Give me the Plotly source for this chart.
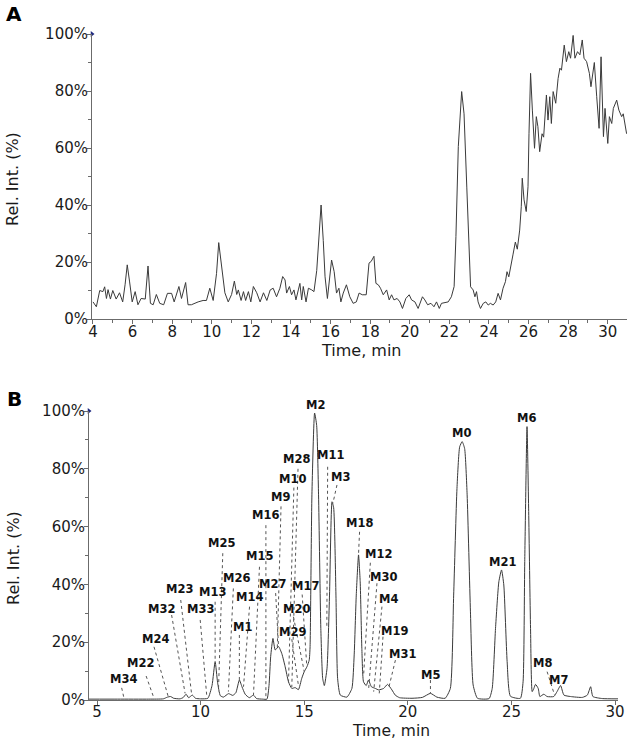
import plotly.graph_objects as go

# ---------------- Panel A: chromatogram (time in min, relative intensity %) ----------------
a_time = [4.0, 4.17, 4.34, 4.5, 4.59, 4.68, 4.76, 4.88, 5.0, 5.17, 5.34, 5.5, 5.62, 5.73, 5.85, 5.98,
          6.13, 6.27, 6.43, 6.64, 6.78, 6.9, 7.04, 7.2, 7.37, 7.57, 7.76, 7.97, 8.1, 8.34, 8.47, 8.68,
          8.8, 8.97, 9.31, 9.56, 9.73, 9.9, 10.07, 10.24, 10.35, 10.5, 10.66, 10.83, 11.0, 11.14, 11.26,
          11.34, 11.48, 11.6, 11.71, 11.85, 11.97, 12.1, 12.27, 12.44, 12.61, 12.78, 12.95, 13.1, 13.27,
          13.44, 13.58, 13.7, 13.78, 13.92, 14.03, 14.15, 14.25, 14.37, 14.45, 14.54, 14.62, 14.76,
          14.88, 15.05, 15.16, 15.3, 15.41, 15.52, 15.63, 15.72, 15.84, 15.94, 16.05, 16.18, 16.3,
          16.42, 16.52, 16.64, 16.8, 16.97, 17.14, 17.3, 17.44, 17.6, 17.8, 17.94, 18.05, 18.19, 18.29,
          18.41, 18.52, 18.66, 18.83, 18.96, 19.08, 19.2, 19.36, 19.5, 19.63, 19.8, 19.97, 20.09, 20.26,
          20.42, 20.64, 20.76, 20.9, 21.07, 21.22, 21.35, 21.49, 21.6, 21.77, 21.94, 22.1, 22.24, 22.33,
          22.45, 22.62, 22.74, 22.88, 22.99, 23.07, 23.2, 23.29, 23.37, 23.45, 23.57, 23.71, 23.84,
          23.96, 24.07, 24.21, 24.34, 24.46, 24.58, 24.71, 24.83, 24.91, 25.0, 25.1, 25.21, 25.33,
          25.43, 25.55, 25.63, 25.68, 25.77, 25.88, 25.97, 26.02, 26.1, 26.19, 26.3, 26.39, 26.47,
          26.56, 26.68, 26.76, 26.9, 26.98, 27.07, 27.15, 27.24, 27.37, 27.49, 27.58, 27.66, 27.8,
          27.91, 28.03, 28.12, 28.25, 28.34, 28.47, 28.59, 28.71, 28.8, 28.93, 29.07, 29.15, 29.24,
          29.32, 29.44, 29.56, 29.66, 29.78, 29.86, 30.0, 30.08, 30.2, 30.28, 30.45, 30.56, 30.7,
          30.78, 30.95]
a_int = [6, 4.3, 10, 9.6, 11.3, 7.2, 10.3, 7, 10, 7, 9.2, 6, 12, 19, 13, 6,
         9.6, 5, 7.2, 7, 18.6, 5.5, 5, 8.6, 5.5, 5, 9, 9, 6, 11.4, 7.2, 12.8,
         5, 5, 6, 6.5, 6.5, 10.8, 6.5, 16, 26.8, 19, 9.2, 6, 8.6, 13.3, 8.6,
         10.2, 6.5, 9.6, 6.5, 9.6, 6, 11.4, 9.2, 6, 9.2, 6.5, 10.2, 10.8, 7.8,
         10.8, 14.9, 13.7, 9.1, 11.4, 8.5, 10.2, 6.7, 10.2, 12.5, 6.7, 11.4, 6,
         10.8, 10.2, 9.6, 17, 28.7, 40, 27.5, 14.8, 7.2, 13.7, 20.7, 16.6, 9.1,
         10.8, 6, 9.1, 12, 7.8, 5.5, 6, 9.1, 8.5, 8.5, 19.6, 20.2, 22, 12.5,
         12, 10.8, 8.5, 10.2, 6.7, 8.5, 6.7, 7.2, 6, 3.7, 7.2, 8.5, 6.7, 6,
         3.7, 7.8, 6.7, 5, 5.5, 4.3, 6, 3.7, 5.5, 5.8, 6, 7.8, 11.4, 28.9,
         60.5, 79.8, 72, 46, 23, 11.3, 10.2, 7.8, 9.6, 6, 3.7, 5.5, 6,
         4.9, 5.5, 4.9, 6, 9, 6.7, 10.8, 13.1, 16.6, 14.8, 19, 22.5, 27,
         24.5, 31.2, 39.4, 49.4, 41.8, 37.7, 46.4, 65, 86.2, 73.3, 59.9, 71, 67.5,
         58.7, 65, 63.8, 78.6, 69.8, 78, 68.6, 79.8, 75.7, 84.4, 88, 87.3, 96.1,
         90.3, 93.8, 91.5, 99.5, 91.5, 93.8, 92.7, 97.9, 91.5, 90.3, 86.2, 81.5, 87.3,
         90, 78, 66.9, 92, 64, 73.9, 61.6, 71, 68.6, 73.9, 76.8, 73.3, 71,
         72, 65]

# ---------------- Panel B: chromatogram ----------------
b_time = [4.6, 6.0, 7.5, 8.2, 8.4, 8.55, 8.7, 9.0, 9.15, 9.3, 9.42, 9.6, 9.75, 10.0, 10.35, 10.55,
          10.7, 10.82, 10.95, 11.1, 11.35, 11.55, 11.7, 11.87, 12.0, 12.15, 12.35, 12.55, 12.7, 13.0,
          13.2, 13.3, 13.38, 13.49, 13.6, 13.76, 13.92, 14.08, 14.24, 14.4, 14.56, 14.72, 14.88, 15.0,
          15.13, 15.24, 15.28, 15.37, 15.5, 15.6, 15.69, 15.8, 15.89, 15.97, 16.1, 16.22, 16.34, 16.42,
          16.53, 16.61, 16.74, 17.06, 17.3, 17.41, 17.51, 17.62, 17.7, 17.78, 17.86, 17.99, 18.1,
          18.24, 18.43, 18.59, 18.83, 19.02, 19.23, 19.39, 19.6, 20.2, 20.7, 21.09, 21.4, 21.8,
          22.05, 22.21, 22.37, 22.5, 22.62, 22.74, 22.86, 23.02, 23.15, 23.36, 23.92, 24.07, 24.23,
          24.39, 24.52, 24.63, 24.79, 24.95, 25.43, 25.56, 25.64, 25.75, 25.83, 25.92, 26.0, 26.08,
          26.16, 26.29, 26.37, 26.56, 26.72, 27.04, 27.2, 27.37, 27.53, 27.85, 28.42, 28.66, 28.82,
          28.93, 29.38, 30.14]
b_int = [0.3, 0.3, 0.3, 0.4, 1.0, 1.2, 0.6, 0.4, 0.8, 2.0, 0.8, 1.7, 0.6, 0.4, 0.6, 5,
         13.3, 6, 1.5, 1.0, 2.2, 1.6, 2.5, 6.9, 4.5, 2.0, 0.8, 1.7, 0.5, 0.3,
         0.3, 5, 15, 21.3, 17.3, 18.5, 16, 11.5, 6.3, 4.0, 4.3, 3.6, 7.5, 9.8,
         11.5, 13.8, 18, 71, 99.3, 95, 71, 24.8, 7.5, 5, 11, 36.3, 68.6, 66.5,
         36.3, 7.5, 1.7, 1.0, 4, 15.6, 36.3, 50.2, 40.9, 17.9, 6.3, 5, 6.9,
         4.6, 4, 3.5, 4, 5.4, 3.5, 1.7, 0.8, 0.6, 0.9, 2.3, 1.0, 0.6,
         4, 36.3, 73.2, 87.6, 89.4, 87, 71, 30.5, 5.2, 0.6, 0.5, 4, 24.8,
         40.9, 45, 39.8, 13.3, 1.3, 0.6, 6.3, 47.9, 94.6, 65.2, 24.8, 2.9, 4,
         5.4, 4, 1.2, 2, 1.2, 1.2, 2.9, 5, 1.7, 1.2, 0.9, 1.7, 4.6,
         1.2, 0.5, 0.4]

# Metabolite labels
met_names = ["M34", "M22", "M24", "M32", "M23", "M33", "M13", "M25", "M26", "M14", "M1", "M15",
             "M16", "M27", "M9", "M10", "M28", "M17", "M20", "M29", "M2", "M11", "M3", "M18",
             "M12", "M30", "M4", "M19", "M31", "M5", "M0", "M21", "M6", "M8", "M7"]

# label placement (text centre in data units) and leader line (start -> end): layout only
label_pos = [(6.26, 7.3), (7.11, 12.7), (7.8, 21), (8.12, 31.6), (9.0, 38.3), (9.98, 31.4),
             (10.59, 37.4), (11.02, 54.2), (11.71, 42.1), (12.36, 35.5), (12.02, 25.2),
             (12.84, 49.9), (13.12, 64), (13.49, 40.1), (13.84, 70.3), (14.44, 76.5),
             (14.61, 83.4), (15.05, 39.6), (14.65, 31.4), (14.45, 23.6), (15.53, None),
             (16.29, 84.8), (16.77, 77.3), (17.67, 61.4), (18.56, 50.5), (18.83, 42.7),
             (19.07, 34.8), (19.35, 24), (19.72, 15.9), (21.09, 8.7), (22.58, 92.3),
             (24.58, 47.9), (25.72, 97.5), (26.48, 12.7), (27.29, 6.9)]
leaders = [((6.19, 4.2), (6.3, 0.7)), ((7.37, 8.3), (7.75, 0.6)), ((7.75, 18.4), (8.44, 1.1)),
           ((8.6, 29.4), (9.25, 2.3)), ((9.04, 34.6), (9.57, 1.7)), ((9.98, 27.7), (10.3, 1.1)),
           ((10.7, 34), (10.7, 13.8)), ((11.07, 50.8), (10.86, 3.0)), ((11.58, 38.6), (11.34, 2.9)),
           ((12.36, 32.3), (12.07, 4.6)), ((11.87, 22.5), (11.87, 6.9)), ((12.84, 46.1), (12.55, 1.7)),
           ((13.15, 60.5), (13.15, 0.5)), ((13.62, 37), (13.76, 18.5)), ((13.88, 67), (13.7, 18)),
           ((14.5, 73.5), (14.24, 6)), ((14.7, 80), (14.4, 4.5)), ((14.9, 36.5), (15.12, 12)),
           ((14.48, 28.8), (15.0, 9.8)), ((14.4, 21), (14.72, 5)), None,
           ((16.13, 80.7), (16.09, 25.4)), ((16.58, 74.4), (16.38, 68)), ((17.67, 58.2), (17.62, 50.5)),
           ((18.19, 47.5), (17.87, 9.2)), ((18.51, 40.4), (18.11, 4)), ((18.75, 32.3), (18.35, 2.9)),
           ((18.8, 21.9), (18.62, 2.3)), ((19.4, 13.8), (19.07, 4)), ((21.09, 6.9), (21.09, 2.3)),
           None, None, None, ((26.72, 9.8), (27.08, 1.7)), None]

a_xticks = list(range(4, 31, 2))
b_xticks = list(range(5, 31, 5))
y_ticks = [0, 20, 40, 60, 80, 100]
y_ticktext = [f"{v}%" for v in y_ticks]

W, H = 630, 741
LINE = "#3a3a3a"
AXC = "#6b6b6b"
FONT = "DejaVu Sans"

fig = go.Figure()
fig.add_trace(go.Scatter(x=a_time, y=a_int, mode="lines", line=dict(color=LINE, width=1),
                         xaxis="x", yaxis="y", showlegend=False, hoverinfo="skip"))
fig.add_trace(go.Scatter(x=b_time, y=b_int, mode="lines",
                         line=dict(color=LINE, width=1, shape="spline", smoothing=0.5),
                         xaxis="x2", yaxis="y2", showlegend=False, hoverinfo="skip"))

xa_range = [3.95, 30.97]
xb_range = [4.614, 30.14]
# small marker at top of y axes
for xr, xa, ya in [(xa_range, "x", "y"), (xb_range, "x2", "y2")]:
    fig.add_trace(go.Scatter(x=[xr[0]], y=[100], mode="markers", xaxis=xa, yaxis=ya,
                             marker=dict(symbol="triangle-right", size=5, color="#1f2a80"),
                             cliponaxis=False, showlegend=False, hoverinfo="skip"))


def px(v, total):
    return v / total


ax_common = dict(showgrid=False, zeroline=False, showline=True, linecolor=AXC, linewidth=1,
                 ticks="outside", ticklen=4, tickcolor=AXC, automargin=False,
                 tickfont=dict(family=FONT, size=15, color="#1a1a1a"))

shapes = []
annotations = []
for name, pos, ld in zip(met_names, label_pos, leaders):
    tx, ty = pos
    ann = dict(x=tx, xref="x2", yref="y2", text=f"<b>{name}</b>", showarrow=False,
               xanchor="center", font=dict(family=FONT, size=11.5, color="#111"))
    if ty is None:
        ann.update(y=100, yanchor="bottom", yshift=-3)
    else:
        ann.update(y=ty, yanchor="middle")
    annotations.append(ann)
    if ld is not None:
        (x0, y0), (x1, y1) = ld
        shapes.append(dict(type="line", xref="x2", yref="y2", x0=x0, y0=y0, x1=x1, y1=y1,
                           line=dict(color="#555", width=1, dash="dot")))


def paper_text(x, y, text, size, angle=0, color="#1a1a1a"):
    return dict(x=px(x, W), y=1 - px(y, H), xref="paper", yref="paper", text=text,
                showarrow=False, xanchor="center", yanchor="middle", textangle=angle,
                font=dict(family=FONT, size=size, color=color))


# panel letters and axis titles
annotations += [
    paper_text(14, 14, "<b>A</b>", 20, color="#000"),
    paper_text(14, 399, "<b>B</b>", 20, color="#000"),
    paper_text(13, 179, "Rel. Int. (%)", 16, angle=-90),
    paper_text(13, 558, "Rel. Int. (%)", 16, angle=-90),
    paper_text(361, 350, "Time, min", 16),
    paper_text(391, 731, "Time, min", 15.5),
]

fig.update_layout(
    template="none",
    width=W, height=H, margin=dict(l=0, r=0, t=0, b=0, autoexpand=False),
    paper_bgcolor="white", plot_bgcolor="white",
    xaxis=dict(domain=[px(92, W), px(627, W)], anchor="y", range=xa_range,
               tickvals=a_xticks, ticklabelstandoff=-5,
               minor=dict(dtick=1, tick0=0, ticks="outside", ticklen=3, tickcolor=AXC),
               **ax_common),
    yaxis=dict(domain=[1 - px(319, H), 1 - px(34, H)], anchor="x", range=[0, 100],
               tickvals=y_ticks, ticktext=y_ticktext, ticklabelstandoff=-4,
               minor=dict(dtick=10, tick0=0, ticks="outside", ticklen=3, tickcolor=AXC), **ax_common),
    xaxis2=dict(domain=[px(89, W), px(618, W)], anchor="y2", range=xb_range,
                tickvals=b_xticks, ticklabelstandoff=-6, **ax_common),
    yaxis2=dict(domain=[1 - px(700, H), 1 - px(411, H)], anchor="x2", range=[0, 100],
                tickvals=y_ticks, ticktext=y_ticktext, ticklabelstandoff=-4,
                minor=dict(dtick=10, tick0=0, ticks="outside", ticklen=3, tickcolor=AXC), **ax_common),
    shapes=shapes, annotations=annotations,
)

fig.write_html("out.html", config={"displayModeBar": False},
               post_script="document.body.style.margin='0px';document.body.style.overflow='hidden';")
